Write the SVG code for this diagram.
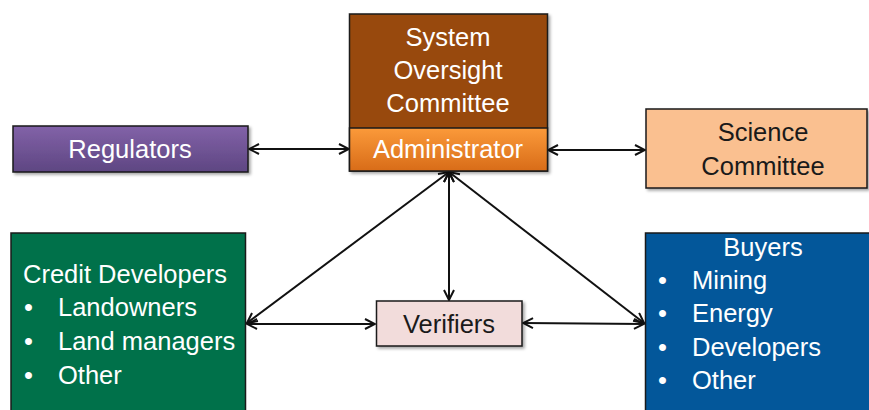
<svg xmlns="http://www.w3.org/2000/svg" width="869" height="410" viewBox="0 0 869 410">
<style>
text{font-family:"Liberation Sans",Arial,sans-serif;font-size:25.5px}
.w{fill:#ffffff}
.k{fill:#1a1a1a}
.c{text-anchor:middle}
.box{stroke:#1a1a1a;stroke-width:1.5}
.conn line{stroke:#111;stroke-width:2;fill:none;marker-start:url(#ah);marker-end:url(#ah)}
</style>
<defs>
<marker id="ah" viewBox="0 0 12 12" refX="11" refY="6" markerWidth="12" markerHeight="12" markerUnits="userSpaceOnUse" orient="auto-start-reverse">
<path d="M1,1 L11,6 L1,11" fill="none" stroke="#111" stroke-width="2"/>
</marker>
<linearGradient id="gOr" x1="0" y1="0" x2="0" y2="1">
<stop offset="0" stop-color="#fb9a3a"/>
<stop offset="1" stop-color="#d86c18"/>
</linearGradient>
<linearGradient id="gPu" x1="0" y1="0" x2="0" y2="1">
<stop offset="0" stop-color="#8262a8"/>
<stop offset="1" stop-color="#5e4682"/>
</linearGradient>
<filter id="sh" x="-5%" y="-5%" width="115%" height="120%">
<feDropShadow dx="2" dy="2" stdDeviation="1.5" flood-color="#000" flood-opacity="0.35"/>
</filter>
</defs>
<rect width="869" height="410" fill="#ffffff"/>

<g id="connectors" class="conn">
<line x1="249" y1="149" x2="349" y2="149"/>
<line x1="548" y1="150" x2="645" y2="150"/>
<line x1="449" y1="172" x2="449" y2="300"/>
<line x1="449" y1="172" x2="247" y2="323"/>
<line x1="449" y1="172" x2="644" y2="323"/>
<line x1="247" y1="324" x2="375" y2="324"/>
<line x1="523" y1="323" x2="644" y2="324"/>
</g>

<g id="oversight">
<rect class="box" x="349.5" y="14" width="198" height="157" fill="#984807" filter="url(#sh)"/>
<rect class="box" x="349.5" y="128" width="198" height="43" fill="url(#gOr)"/>
<text class="w c" x="448" y="46">System</text>
<text class="w c" x="448" y="79">Oversight</text>
<text class="w c" x="448" y="112">Committee</text>
</g>
<g id="administrator">
<text class="w c" x="448" y="158">Administrator</text>
</g>

<g id="regulators">
<rect class="box" x="13" y="126" width="235" height="46" fill="url(#gPu)" filter="url(#sh)"/>
<text class="w c" x="130" y="158">Regulators</text>
</g>

<g id="science">
<rect class="box" x="646" y="109" width="221" height="79" fill="#fac090" filter="url(#sh)"/>
<text class="k c" x="763" y="141">Science</text>
<text class="k c" x="763" y="175">Committee</text>
</g>

<g id="credit">
<rect class="box" x="11" y="233" width="234.5" height="185" fill="#00714a"/>
<text class="w" x="23" y="283">Credit Developers</text>
<text class="w" x="24" y="316">•</text><text class="w" x="58" y="316">Landowners</text>
<text class="w" x="24" y="350">•</text><text class="w" x="58" y="350">Land managers</text>
<text class="w" x="24" y="384">•</text><text class="w" x="58" y="384">Other</text>
</g>

<g id="verifiers">
<rect class="box" x="376.5" y="301" width="145.5" height="45" fill="#f2dcdb" filter="url(#sh)"/>
<text class="k c" x="449" y="333">Verifiers</text>
</g>

<g id="buyers">
<rect class="box" x="645.5" y="233" width="230" height="185" fill="#03579a"/>
<text class="w c" x="763" y="256">Buyers</text>
<text class="w" x="658" y="289">•</text><text class="w" x="692" y="289">Mining</text>
<text class="w" x="658" y="322">•</text><text class="w" x="692" y="322">Energy</text>
<text class="w" x="658" y="356">•</text><text class="w" x="692" y="356">Developers</text>
<text class="w" x="658" y="389">•</text><text class="w" x="692" y="389">Other</text>
</g>
</svg>
